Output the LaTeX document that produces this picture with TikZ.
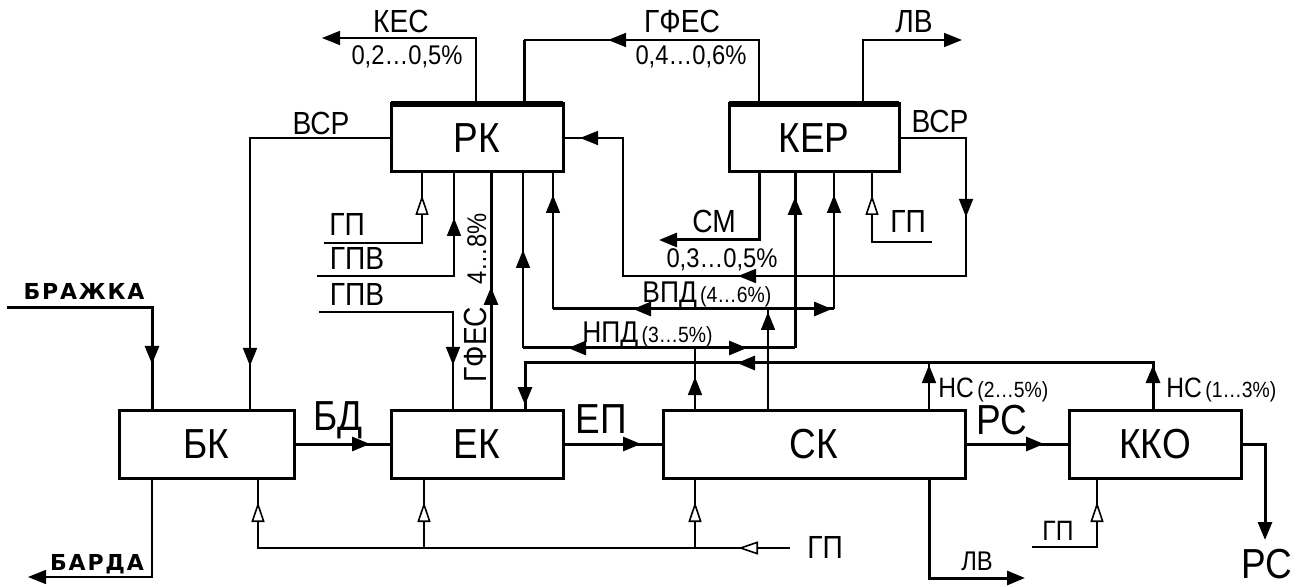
\documentclass[tikz,border=0pt]{standalone}
\usepackage{fontspec}
\setmainfont{Liberation Sans}[FakeStretch=0.88]
\newfontfamily\widefont{DejaVu Sans}[LetterSpace=8]
\usetikzlibrary{arrows.meta,positioning,decorations.markings}

\begin{document}
\begin{tikzpicture}[
    x=0.5pt, y=-0.5pt,
    >={Triangle[length=9pt,width=7pt]},
    box/.style={draw, line width=1.5pt, outer sep=0pt, inner sep=0pt, minimum width=86pt, minimum height=34pt, font=\fontsize{21}{21}\selectfont},
    flow/.style={line width=1.5pt},
    aux/.style={line width=0.8pt},
    fa/.style={postaction={decorate, decoration={markings, mark=at position #1 with {\arrow{Triangle[length=9pt,width=7pt]}}}}},
    ha/.style={postaction={decorate, decoration={markings, mark=at position #1 with {\arrow{Triangle[length=10pt,width=6.5pt,fill=white]}}}}},
    big/.style={font=\fontsize{21}{21}\selectfont, inner sep=0pt, anchor=base},
    lbl/.style={font=\fontsize{16}{16}\selectfont, inner sep=0pt, anchor=base},
    pct/.style={font=\fontsize{13.5}{13.5}\selectfont, inner sep=0pt, anchor=base},
    inlet/.style={font=\widefont\bfseries\fontsize{11}{11}\selectfont, inner sep=0pt, anchor=base}
]
\useasboundingbox (0,0) rectangle (1305,587);

% apparatus
\node[box, minimum width=87.5pt] (bk) at (206.5,444) {БК};
\node[box, right=48.5pt of bk] (ek) {ЕК};
\node[box, minimum width=151pt, right=50pt of ek] (sk) {СК};
\node[box, right=52pt of sk] (kko) {ККО};
\node[box, above=119pt of ek] (rk) {РК};
\node[box, minimum width=85pt, above=119pt of sk] (ker) {КЕР};
\draw[line width=3pt] (rk.north west) -- (rk.north east);
\draw[line width=3pt] (ker.north west) -- (ker.north east);

% main stream
\draw[flow, fa=-10.5pt] (bk.east) -- (ek.west);
\draw[flow, fa=-11pt] (ek.east) -- (sk.west);
\draw[flow, fa=-12.5pt] (sk.east) -- (kko.west);
\node[big] at (338,430) {БД};
\node[big] at (601,433) {ЕП};
\node[big] at (1002,434) {РС};

\coordinate (brin) at (7,308);
\draw[flow, fa=-23pt] (brin) -| (bk.north -| 152,0);
\node[inlet] at (84,300) {БРАЖКА};
\draw[aux, fa=-22pt] (rk.west) -| (bk.north -| 250,0);
\node[lbl] at (321,135) {ВСР};
\coordinate (barda) at (28,577);
\draw[aux, ->] (bk.south -| 152,0) |- (barda);
\node[inlet] at (97,570) {БАРДА};

% tops of РК and КЕР
\coordinate (kes) at (322,38);
\draw[aux, ->] (rk.north -| 476,0) |- (kes);
\node[lbl] at (401,33) {КЕС};
\node[pct] at (407,65) {0,2…0,5\%};
\coordinate (gfes) at (524,40);
\draw[aux, fa=107.5pt] (ker.north -| 759,0) |- (gfes);
\draw[flow] (gfes) -- (rk.north -| gfes);
\node[lbl] at (682,33) {ГФЕС};
\node[pct] at (691,65) {0,4…0,6\%};
\coordinate (lvT) at (962,40);
\draw[aux, ->] (ker.north -| 863,0) |- (lvT);
\node[lbl] at (914,33) {ЛВ};

% КЕР side streams
\coordinate (vsrR) at (966,276);
\coordinate (vsrL) at (623,276);
\draw[aux, fa=73pt, fa=216.5pt, fa=-8.5pt] (ker.east) -| (vsrR) -- (vsrL) |- (rk.east);
\node[lbl] at (940,133) {ВСР};
\coordinate (cm) at (659,240);
\draw[flow, ->] (ker.south -| 759,0) |- (cm);
\node[lbl] at (714,233) {СМ};
\node[pct] at (722,268) {0,3…0,5\%};
\coordinate (gpK) at (932,242);
\draw[aux, ha=-11.5pt] (gpK) -| (ker.south -| 872,0);
\node[lbl] at (908,233) {ГП};

% РК bottom
\coordinate (gpR) at (324,243);
\draw[aux, ha=-11.5pt] (gpR) -| (rk.south -| 422,0);
\node[lbl] at (347,236) {ГП};
\coordinate (gpv1) at (317,276);
\draw[aux, fa=-23pt] (gpv1) -| (rk.south -| 454,0);
\node[lbl] at (357,270) {ГПВ};
\coordinate (gpv2) at (319,312);
\draw[aux, fa=-22.5pt] (gpv2) -| (ek.north -| 453,0);
\node[lbl] at (357,306) {ГПВ};
\draw[flow, fa=61.5pt] (ek.north -| 491,0) -- (rk.south -| 491,0);
\node[lbl, rotate=90] at (486,298) {ГФЕС\hspace{11pt}{\fontsize{13.5}{13.5}\selectfont 4…8\%}};

% ВПД
\coordinate (vpd) at (768,309);
\coordinate (vpdL) at (553,309);
\coordinate (vpdR) at (834,309);
\draw[aux, fa=-1.5pt] (sk.north -| vpd) -- (vpd);
\draw[flow, fa=67.5pt] (vpd) -- (vpdL);
\draw[aux, fa=-11.5pt] (vpdL) -- (rk.south -| vpdL);
\draw[flow, fa=-1pt] (vpd) -- (vpdR);
\draw[aux, fa=-11.5pt] (vpdR) -- (ker.south -| vpdR);
\node[inner sep=0pt, anchor=base west] at (642,303) {{\fontsize{15}{15}\selectfont ВПД}\,{\fontsize{11}{11}\selectfont (4…6\%)}};

% НПД
\coordinate (npd) at (695,348);
\coordinate (npdL) at (523,348);
\coordinate (npdR) at (795,348);
\draw[aux, fa=16.5pt] (sk.north -| npd) -- (npd);
\draw[flow, fa=63.5pt] (npd) -- (npdL);
\draw[aux, fa=-39pt] (npdL) -- (rk.south -| npdL);
\draw[flow, fa=26pt] (npd) -- (npdR);
\draw[flow, fa=-12.5pt] (npdR) -- (ker.south -| npdR);
\node[inner sep=0pt, anchor=base west] at (582,343) {{\fontsize{15}{15}\selectfont НПД}\,{\fontsize{11}{11}\selectfont (3…5\%)}};

% НС return
\coordinate (nsT) at (1153,363);
\coordinate (nsL) at (525,363);
\draw[flow, fa=22.5pt, fa=231.5pt, fa=-2.5pt] (kko.north -| nsT) -- (nsT) -- (nsL) -- (ek.north -| nsL);
\draw[aux, fa=-1pt] (sk.north -| 929,0) -- (nsT -| 929,0);
\node[inner sep=0pt, anchor=base west] at (938,397) {{\fontsize{14}{14}\selectfont НС}\,{\fontsize{11}{11}\selectfont (2…5\%)}};
\node[inner sep=0pt, anchor=base west] at (1166,397) {{\fontsize{14}{14}\selectfont НС}\,{\fontsize{11}{11}\selectfont (1…3\%)}};

% steam ГП below
\coordinate (gpB) at (790,548);
\draw[aux, ha=26pt, ha=-12pt] (gpB) -| (bk.south -| 258,0);
\draw[aux, ha=-12pt] (gpB -| 424,0) -- (ek.south -| 424,0);
\draw[aux, ha=-12pt] (gpB -| 695,0) -- (sk.south -| 695,0);
\node[lbl] at (825,558) {ГП};

% outputs
\coordinate (lvB) at (1025,578);
\draw[flow, ->] (sk.south -| 929,0) |- (lvB);
\node[pct] at (977,570) {ЛВ};
\coordinate (rsB) at (1265,540);
\draw[flow, ->] (kko.east) -| (rsB);
\node[big] at (1267,578) {РС};
\coordinate (gpO) at (1032,547);
\draw[aux, ha=-12pt] (gpO) -| (kko.south -| 1097,0);
\node[font=\fontsize{14}{14}\selectfont, inner sep=0pt, anchor=base] at (1058,540) {ГП};
\end{tikzpicture}
\end{document}
